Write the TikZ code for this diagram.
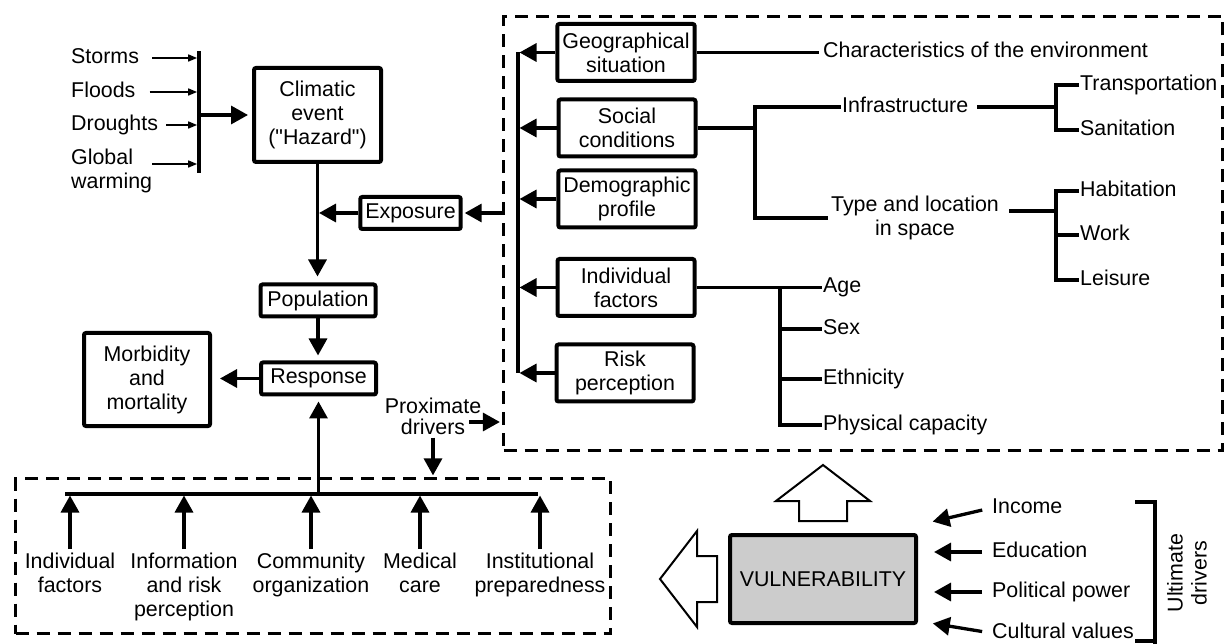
\documentclass[tikz,border=0pt]{standalone}
\usepackage{fontspec}
\setmainfont{Liberation Sans}[Ligatures=TeXOff]
\usetikzlibrary{arrows.meta,calc}

\begin{document}
\begin{tikzpicture}[x=1pt, y=-1pt, font=\fontsize{21.4}{24}\selectfont,
  box/.style={draw, line width=4pt, rounded corners=2pt, align=center, inner xsep=5pt, inner ysep=3pt, minimum height=32pt},
  vbox/.style={box, minimum width=137pt, minimum height=57pt},
  lbl/.style={inner sep=1pt, align=center},
  tag/.style={inner sep=1pt, text height=15pt, text depth=4pt},
  dashbox/.style={draw, line width=3.2pt, dash pattern=on 13pt off 8pt, inner sep=0pt},
  wire/.style={line width=3.3pt},
  bigarr/.style={line width=3.3pt, -{Triangle[length=17pt, width=18pt]}},
  smallarr/.style={line width=1.6pt, -{Triangle[length=9pt, width=7pt]}},
  hollow/.style={draw, line width=2pt, line join=miter, fill=white}]

\useasboundingbox (0, 0) rectangle (1227, 644);

\node[dashbox, minimum width=719pt, minimum height=434pt] (vulbox) at (863, 233.5) {};
\node[dashbox, minimum width=595pt, minimum height=155pt] (resbox) at (313, 556) {};

\node[tag, anchor=west] (storms) at (70, 58) {Storms};
\node[tag, anchor=west] (floods) at (70, 92) {Floods};
\node[tag, anchor=west] (drought) at (70, 125) {Droughts};
\node[lbl, anchor=west, align=left] (warming) at (70, 171) {Global\\warming};
\node[fill, inner sep=0pt, minimum width=3.3pt, minimum height=122pt] (bar) at (199, 112) {};
\coordinate (gw) at (152, 164);
\draw[smallarr, shorten <=12pt] (storms.east) -- (storms.east -| bar.west);
\draw[smallarr, shorten <=13pt] (floods.east) -- (floods.east -| bar.west);
\draw[smallarr, shorten <=7pt] (drought.east) -- (drought.east -| bar.west);
\draw[smallarr] (gw) -- (gw -| bar.west);

\node[box, minimum width=127pt, minimum height=94pt] (hazard) at (317.5, 115) {Climatic\\event\\("Hazard")};
\draw[bigarr, shorten >=4pt] (bar.east |- hazard.west) -- (hazard.west);

\node[box, minimum width=115pt] (pop) at (318, 300.5) {Population};
\node[box, minimum width=99pt] (expo) at (410.5, 213) {Exposure};
\node[box, minimum width=115pt] (resp) at (318.5, 378.5) {Response};
\node[box, minimum width=126pt, minimum height=93pt] (morb) at (147, 379.5) {Morbidity\\and\\mortality};
\draw[bigarr, shorten >=6pt] (hazard.south) -- (hazard.south |- pop.north);
\draw[bigarr, shorten >=1.5pt] (expo.west) -- (expo.west -| hazard.south);
\draw[bigarr, shorten >=2pt] (vulbox.west |- expo.east) -- (expo.east);
\draw[bigarr, shorten >=5pt] (pop.south) -- (pop.south |- resp.north);
\draw[bigarr, shorten >=8pt] (resp.west) -- (resp.west -| morb.east);

\node[lbl, anchor=north] (indf) at (70, 552) {Individual\\factors};
\node[lbl, anchor=north] (info) at (184, 552) {Information\\and risk\\perception};
\node[lbl, anchor=north] (comm) at (311, 552) {Community\\organization};
\node[lbl, anchor=north] (med) at (420, 552) {Medical\\care};
\node[lbl, anchor=north] (inst) at (540, 552) {Institutional\\preparedness};
\coordinate (busl) at (65, 494);
\coordinate (busr) at (538, 494);
\draw[wire] (busl) -- (busr);
\draw[bigarr, shorten <=3pt, shorten >=1.5pt] (indf.north) -- (indf.north |- busl);
\draw[bigarr, shorten <=3pt, shorten >=1.5pt] (info.north) -- (info.north |- busl);
\draw[bigarr, shorten <=3pt, shorten >=1.5pt] (comm.north) -- (comm.north |- busl);
\draw[bigarr, shorten <=3pt, shorten >=1.5pt] (med.north) -- (med.north |- busl);
\draw[bigarr, shorten <=3pt, shorten >=1.5pt] (inst.north) -- (inst.north |- busl);
\draw[bigarr, shorten >=5pt] (resp.south |- busl) -- (resp.south);

\node[lbl, font=\fontsize{21.4}{21}\selectfont] (prox) at (433, 416) {Proximate\\drivers};
\coordinate (pd) at (469, 422);
\draw[bigarr, shorten >=2pt] (pd) -- (pd -| vulbox.west);
\draw[bigarr, shorten <=2pt, shorten >=1.5pt] (prox.south) -- (prox.south |- resbox.north);

\node[vbox] (geo) at (626, 52.5) {Geographical\\situation};
\node[vbox] (soc) at (627, 128) {Social\\conditions};
\node[vbox] (dem) at (627, 199) {Demographic\\profile};
\node[vbox] (ind) at (626, 287.5) {Individual\\factors};
\node[vbox] (risk) at (625, 373) {Risk\\perception};
\coordinate (vbus) at (518, 0);
\draw[wire] (geo.west -| vbus) -- (risk.west -| vbus);
\draw[bigarr, shorten >=1.5pt] (geo.west) -- (geo.west -| vbus);
\draw[bigarr, shorten >=1.5pt] (soc.west) -- (soc.west -| vbus);
\draw[bigarr, shorten >=1.5pt] (dem.west) -- (dem.west -| vbus);
\draw[bigarr, shorten >=1.5pt] (ind.west) -- (ind.west -| vbus);
\draw[bigarr, shorten >=1.5pt] (risk.west) -- (risk.west -| vbus);

\node[tag, anchor=west] (env) at (822, 52.5) {Characteristics of the environment};
\draw[wire, shorten >=3pt] (geo.east) -- (env.west);

\node[tag, anchor=west] (infra) at (841, 107) {Infrastructure};
\node[lbl] (type) at (915, 218) {Type and location\\in space};
\coordinate (sj) at (755, 128);
\draw[wire] (soc.east) -- (sj);
\draw[wire] (infra.west) -- (sj |- infra.west) -- (sj |- type.west) -- ([xshift=-2pt]type.west);

\node[tag, anchor=west] (trans) at (1079, 85) {Transportation};
\node[tag, anchor=west] (sanit) at (1079, 130) {Sanitation};
\coordinate (ij) at (1056, 107);
\draw[wire, shorten <=8pt] (infra.east) -- (ij);
\draw[wire] (trans.west) -- (ij |- trans.west) -- (ij |- sanit.west) -- (sanit.west);

\node[tag, anchor=west] (habit) at (1079, 191) {Habitation};
\node[tag, anchor=west] (work) at (1079, 235) {Work};
\node[tag, anchor=west] (leis) at (1079, 280) {Leisure};
\coordinate (tj) at (1056, 211);
\draw[wire, shorten <=9pt] (tj -| type.east) -- (tj);
\draw[wire] (habit.west) -- (tj |- habit.west) -- (tj |- leis.west) -- (leis.west);
\draw[wire] (tj |- work.west) -- (work.west);

\node[tag, anchor=west] (age) at (822, 287.5) {Age};
\node[tag, anchor=west] (sex) at (822, 329) {Sex};
\node[tag, anchor=west] (eth) at (822, 379) {Ethnicity};
\node[tag, anchor=west] (phys) at (822, 425) {Physical capacity};
\coordinate (aj) at (780, 0);
\draw[wire] (ind.east) -- (age.west);
\draw[wire] (age.west -| aj) -- (phys.west -| aj) -- (phys.west);
\draw[wire] (sex.west -| aj) -- (sex.west);
\draw[wire] (eth.west -| aj) -- (eth.west);

\node[box, fill=gray!40, minimum width=186pt, minimum height=88pt] (vul) at (823, 579) {VULNERABILITY};
\draw[hollow] ($(vul.north)+(-24,-12)$) -- ++(0,-20) -- ++(-23,0) -- ++(47,-36) -- ++(47,36) -- ++(-23,0) -- ++(0,20) -- cycle;
\draw[hollow] ($(vul.west)+(-11,-23)$) -- ++(-20,0) -- ++(0,-25) -- ++(-37,48) -- ++(37,48) -- ++(0,-25) -- ++(20,0) -- cycle;

\node[tag, anchor=west] (inc) at (991, 508) {Income};
\node[tag, anchor=west] (edu) at (991, 552) {Education};
\node[tag, anchor=west] (pol) at (991, 592) {Political power};
\node[tag, anchor=west] (cult) at (991, 633) {Cultural values};
\draw[bigarr, shorten <=9pt, shorten >=15pt] (inc.west) -- ([yshift=8pt]vul.north east);
\draw[bigarr, shorten <=9pt, shorten >=16pt] (edu.west) -- (edu.west -| vul.east);
\draw[bigarr, shorten <=9pt, shorten >=16pt] (pol.west) -- (pol.west -| vul.east);
\draw[bigarr, shorten <=9pt, shorten >=15pt] (cult.west) -- ([yshift=4pt]vul.south east);

\draw[wire] (1135, 502) -- (1155, 502) -- (1155, 644);
\draw[wire] (1135, 641) -- (1155, 641);
\node[lbl, rotate=90] (ult) at (1187, 573) {Ultimate\\drivers};

\end{tikzpicture}
\end{document}
